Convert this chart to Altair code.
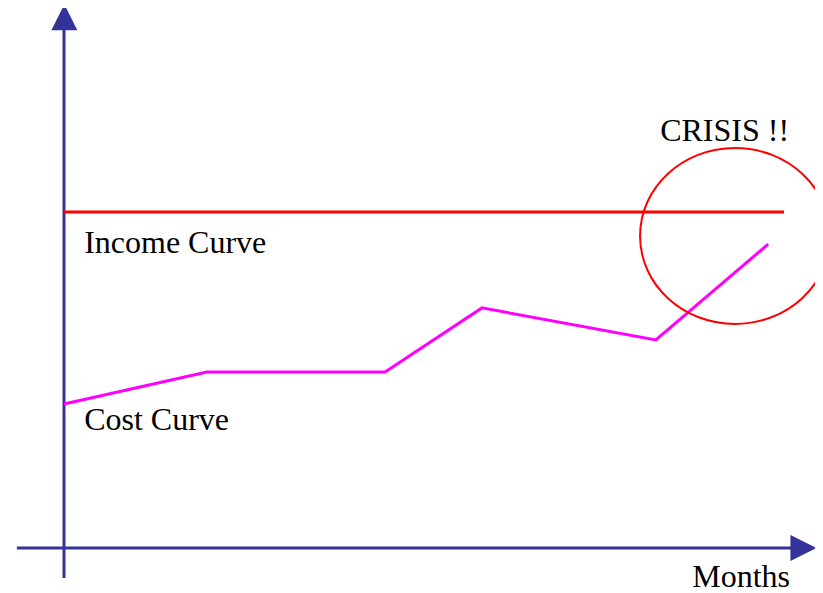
import altair as alt
import pandas as pd

# ---- data (x in months, y in arbitrary value units) ----
cost_months = [0, 3.97, 8.92, 11.61, 16.44, 19.56]
cost_values = [4.0, 4.89, 4.89, 6.67, 5.78, 8.44]
income_months = [0, 20.0]
income_values = [9.33, 9.33]

label_text = ["Income Curve", "Cost Curve", "CRISIS !!", "Months"]
label_x = [0.56, 0.56, 16.56, 17.45]
label_y = [8.19, 3.28, 11.3, -1.08]

# scale setup: 36 px per unit, origin at the axes crossing
W, H = 807, 582
x_dom = [-56 / 36, 751 / 36]
y_dom = [-42 / 36, 540 / 36]
xs = alt.Scale(domain=x_dom, nice=False, zero=False)
ys = alt.Scale(domain=y_dom, nice=False, zero=False)
X = lambda f: alt.X(f, scale=xs, axis=None)
Y = lambda f: alt.Y(f, scale=ys, axis=None)

AXIS = "#333399"

cost_df = pd.DataFrame({"m": cost_months, "v": cost_values})
income_df = pd.DataFrame({"m": income_months, "v": income_values})
labels_df = pd.DataFrame({"t": label_text, "m": label_x, "v": label_y})

vaxis_df = pd.DataFrame({"m": [0, 0], "v": [-0.83, 14.5]})
haxis_df = pd.DataFrame({"m": [-1.31, 20.3], "v": [0, 0]})
up_df = pd.DataFrame({"m": [0.01], "v": [14.74]})
right_df = pd.DataFrame({"m": [20.54], "v": [0]})
ell_df = pd.DataFrame({"m": [18.64], "v": [8.667]})

vaxis = alt.Chart(vaxis_df).mark_line(color=AXIS, strokeWidth=3).encode(x=X("m:Q"), y=Y("v:Q"))
haxis = alt.Chart(haxis_df).mark_line(color=AXIS, strokeWidth=3).encode(x=X("m:Q"), y=Y("v:Q"))
up = alt.Chart(up_df).mark_point(shape="M0,-1L1,1L-1,1Z", size=676, filled=True,
                                 color=AXIS, opacity=1, strokeWidth=0).encode(x=X("m:Q"), y=Y("v:Q"))
right = alt.Chart(right_df).mark_point(shape="M1,0L-1,1L-1,-1Z", size=676, filled=True,
                                       color=AXIS, opacity=1, strokeWidth=0).encode(x=X("m:Q"), y=Y("v:Q"))

income = alt.Chart(income_df).mark_line(color="#FF0000", strokeWidth=3).encode(x=X("m:Q"), y=Y("v:Q"))
cost = alt.Chart(cost_df).mark_line(color="#FF00FF", strokeWidth=3).encode(x=X("m:Q"), y=Y("v:Q"))

ellipse = alt.Chart(ell_df).mark_point(
    shape="M-1,0A1,0.926,0,1,1,1,0A1,0.926,0,1,1,-1,0Z",
    size=190 * 190, filled=False, color="#FF0000", opacity=1, strokeWidth=2,
).encode(x=X("m:Q"), y=Y("v:Q"))

labels = alt.Chart(labels_df).mark_text(
    align="left", baseline="alphabetic", font="Liberation Serif", fontSize=32, color="#000000"
).encode(x=X("m:Q"), y=Y("v:Q"), text="t:N")

chart = alt.layer(vaxis, haxis, up, right, income, cost, ellipse, labels).properties(
    width=W, height=H, padding=0, autosize=alt.AutoSizeParams(type="none")
).configure_view(stroke=None)

chart.save("out.html", embed_options={"renderer": "svg", "actions": False})
